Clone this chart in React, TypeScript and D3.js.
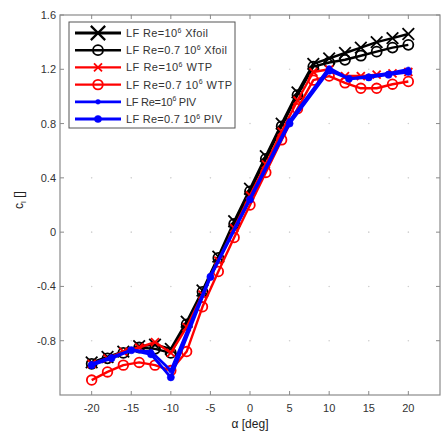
import React from "react";
import * as d3 from "d3";

const W = 442;
const H = 436;

const xTicks = [-20, -15, -10, -5, 0, 5, 10, 15, 20];
const yTicks = [-0.8, -0.4, 0, 0.4, 0.8, 1.2, 1.6];
const yTickLabels = ["-0.8", "-0.4", "0", "0.4", "0.8", "1.2", "1.6"];

const alphaXfoil = [-20, -18, -16, -14, -12, -10, -8, -6, -4, -2, 0, 2, 4, 6, 8, 10, 12, 14, 16, 18, 20];
const xfoilRe1 = [-0.96, -0.92, -0.88, -0.84, -0.83, -0.86, -0.66, -0.43, -0.18, 0.08, 0.32, 0.56, 0.8, 1.03, 1.24, 1.28, 1.32, 1.36, 1.4, 1.43, 1.46];
const xfoilRe07 = [-0.97, -0.93, -0.89, -0.85, -0.86, -0.89, -0.68, -0.44, -0.19, 0.06, 0.3, 0.54, 0.78, 1.01, 1.22, 1.25, 1.27, 1.3, 1.33, 1.36, 1.38];

const alphaWtp = [-20, -18, -16, -14, -12, -10, -8, -6, -4, -2, 0, 2, 4, 6, 8, 10, 12, 14, 16, 18, 20];
const wtpRe1 = [-0.97, -0.93, -0.88, -0.85, -0.81, -0.89, -0.7, -0.46, -0.21, 0.03, 0.27, 0.5, 0.74, 0.97, 1.18, 1.2, 1.15, 1.15, 1.16, 1.17, 1.18];
const wtpRe07 = [-1.09, -1.03, -0.98, -0.96, -0.98, -1.02, -0.88, -0.55, -0.29, -0.04, 0.2, 0.44, 0.68, 0.91, 1.12, 1.15, 1.1, 1.06, 1.06, 1.09, 1.11];

const alphaPiv = [-20, -17.5, -15, -12.5, -10, -5, 0, 5, 10, 12.5, 15, 17.5, 20];
const pivRe1 = [-0.97, -0.92, -0.87, -0.88, -1.02, -0.32, 0.25, 0.82, 1.21, 1.13, 1.15, 1.17, 1.2];
const pivRe07 = [-0.98, -0.93, -0.87, -0.9, -1.07, -0.33, 0.24, 0.8, 1.19, 1.13, 1.14, 1.16, 1.18];

const legendLabels = [
  { pre: "LF Re=10", sup: "6", post: " Xfoil" },
  { pre: "LF Re=0.7 10", sup: "6", post: " Xfoil" },
  { pre: "LF Re=10", sup: "6", post: " WTP" },
  { pre: "LF Re=0.7 10", sup: "6", post: " WTP" },
  { pre: "LF Re=10", sup: "6", post: " PIV" },
  { pre: "LF Re=0.7 10", sup: "6", post: " PIV" },
];
const legendTextWidths = [82, 101, 86, 106, 70, 96];

type Marker = "X" | "O" | "x" | "o" | "dot" | "bigdot";

const seriesDefs = [
  { alpha: alphaXfoil, cl: xfoilRe1, color: "#000", lw: 2.4, marker: "X" as Marker },
  { alpha: alphaXfoil, cl: xfoilRe07, color: "#000", lw: 2.4, marker: "O" as Marker },
  { alpha: alphaWtp, cl: wtpRe1, color: "#ff0000", lw: 2.4, marker: "x" as Marker },
  { alpha: alphaWtp, cl: wtpRe07, color: "#ff0000", lw: 2.4, marker: "o" as Marker },
  { alpha: alphaPiv, cl: pivRe1, color: "#0000ff", lw: 2.8, marker: "dot" as Marker },
  { alpha: alphaPiv, cl: pivRe07, color: "#0000ff", lw: 2.8, marker: "bigdot" as Marker },
];

const left = 60, right = 440, top = 15, bottom = 395;

function MarkerShape({ m, x, y, color }: { m: Marker; x: number; y: number; color: string }) {
  if (m === "X" || m === "x") {
    const s = m === "X" ? 5.8 : 4;
    return (
      <g stroke={color} strokeWidth={1.8} fill="none">
        <line x1={x - s} y1={y - s} x2={x + s} y2={y + s} />
        <line x1={x - s} y1={y + s} x2={x + s} y2={y - s} />
      </g>
    );
  }
  if (m === "O" || m === "o") {
    return <circle cx={x} cy={y} r={m === "O" ? 5 : 4.8} fill="none" stroke={color} strokeWidth={1.8} />;
  }
  return <circle cx={x} cy={y} r={m === "dot" ? 2.4 : 3.6} fill={color} stroke={color} strokeWidth={0.5} />;
}

export default function App() {
  const x = d3.scaleLinear().domain([-24, 24]).range([left, right]);
  const y = d3.scaleLinear().domain([-1.2, 1.6]).range([bottom, top]);
  const line = d3
    .line<[number, number]>()
    .x((d) => x(d[0]))
    .y((d) => y(d[1]));

  const font = "Liberation Sans, Arial, sans-serif";
  const legX = 69, legY = 22, legW = 166, legH = 106;
  const rowY = (i: number) => legY + 11 + i * 17.2;

  return (
    <div style={{ position: "fixed", left: 0, top: 0 }}>
      <svg width={W} height={H} style={{ display: "block", background: "#fff" }}>
        <rect x={0} y={0} width={W} height={H} fill="#fff" />
        {xTicks.map((t) =>
          yTicks.map((v) => (
            <circle key={`g${t}_${v}`} cx={x(t)} cy={y(v)} r={0.8} fill="#cfcfcf" />
          ))
        )}
        {seriesDefs.map((s, i) => {
          const pts = s.alpha.map((a, j) => [a, s.cl[j]] as [number, number]);
          return (
            <g key={`s${i}`}>
              <path d={line(pts) || ""} fill="none" stroke={s.color} strokeWidth={s.lw} strokeLinejoin="round" />
              {pts.map((p, j) => (
                <MarkerShape key={j} m={s.marker} x={x(p[0])} y={y(p[1])} color={s.color} />
              ))}
            </g>
          );
        })}
        <rect x={left} y={top} width={right - left} height={bottom - top} fill="none" stroke="#8a8a8a" strokeWidth={1.2} />
        {xTicks.map((t) => (
          <g key={`xt${t}`} stroke="#8a8a8a" strokeWidth={1}>
            <line x1={x(t)} x2={x(t)} y1={bottom} y2={bottom - 4} />
            <line x1={x(t)} x2={x(t)} y1={top} y2={top + 4} />
          </g>
        ))}
        {yTicks.map((v) => (
          <g key={`yt${v}`} stroke="#8a8a8a" strokeWidth={1}>
            <line x1={left} x2={left + 4} y1={y(v)} y2={y(v)} />
            <line x1={right} x2={right - 4} y1={y(v)} y2={y(v)} />
          </g>
        ))}
        {xTicks.map((t) => (
          <text key={`xl${t}`} x={x(t)} y={bottom + 17} textAnchor="middle" fontFamily={font} fontSize={11} fill="#333">
            {String(t)}
          </text>
        ))}
        {yTicks.map((v, i) => (
          <text key={`yl${v}`} x={left - 4} y={y(v) + 4} textAnchor="end" fontFamily={font} fontSize={11} fill="#333">
            {yTickLabels[i]}
          </text>
        ))}
        <text x={(left + right) / 2} y={428} textAnchor="middle" fontFamily={font} fontSize={12} fill="#222">
          α [deg]
        </text>
        <g transform={`translate(23, ${(top + bottom) / 2 - 5}) rotate(-90)`}>
          <text x={0} y={0} textAnchor="middle" fontFamily={font} fontSize={12} fill="#222">
            c<tspan fontSize={8} dy={3}>l</tspan>
            <tspan dy={-3}> []</tspan>
          </text>
        </g>
        <rect x={legX} y={legY} width={legW} height={legH} fill="#fff" stroke="#555" strokeWidth={1} />
        {seriesDefs.map((s, i) => {
          const cy = rowY(i);
          const x1 = 75, x2 = 121;
          const mx = (x1 + x2) / 2;
          const big = i === 0 ? 1.3 : 1;
          return (
            <g key={`lg${i}`}>
              <line x1={x1} x2={x2} y1={cy} y2={cy} stroke={s.color} strokeWidth={i === 0 ? 3 : s.lw} />
              {s.marker === "X" ? (
                <g stroke={s.color} strokeWidth={2.2} fill="none">
                  <line x1={mx - 5.5 * big} y1={cy - 5.5 * big} x2={mx + 5.5 * big} y2={cy + 5.5 * big} />
                  <line x1={mx - 5.5 * big} y1={cy + 5.5 * big} x2={mx + 5.5 * big} y2={cy - 5.5 * big} />
                </g>
              ) : (
                <MarkerShape m={s.marker} x={mx} y={cy} color={s.color} />
              )}
              <text x={126} y={cy + 4} fontFamily={font} fontSize={11} fill="#333" textLength={legendTextWidths[i]}>
                {legendLabels[i].pre}
                <tspan fontSize={7} dy={-4.5}>{legendLabels[i].sup}</tspan>
                <tspan dy={4.5}>{legendLabels[i].post}</tspan>
              </text>
            </g>
          );
        })}
      </svg>
    </div>
  );
}
